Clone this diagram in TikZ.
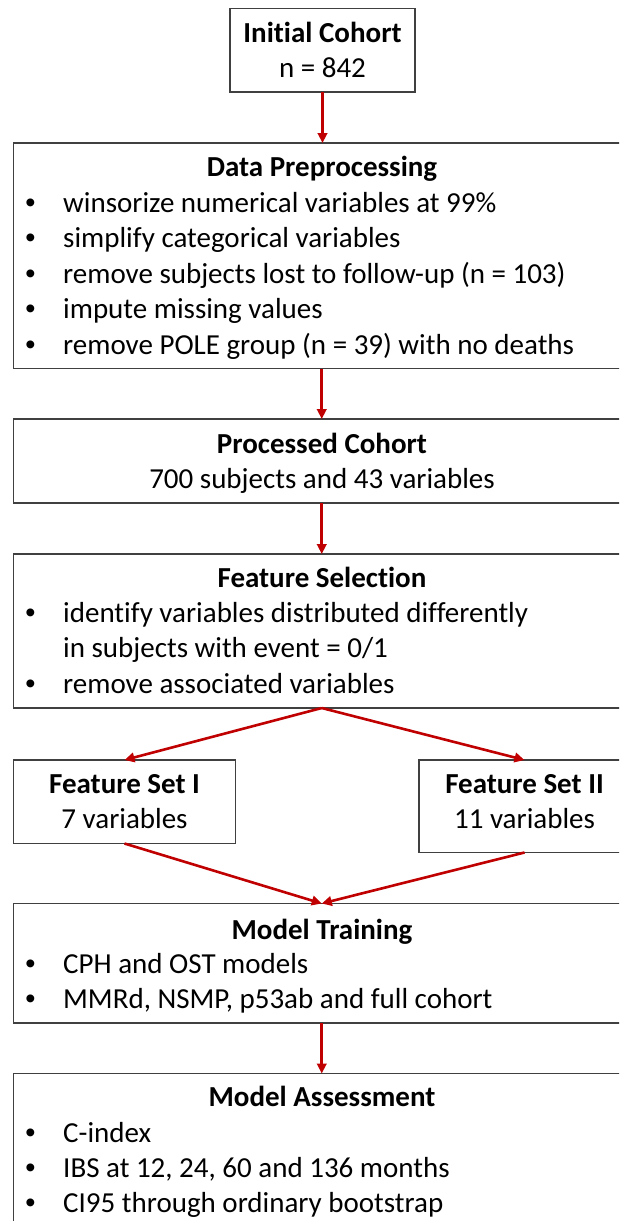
\documentclass[tikz,border=0pt]{standalone}
\usepackage{fontspec}
\setmainfont{Carlito}[Ligatures=NoCommon]
\newfontfamily\bulfont{Liberation Sans}
\usetikzlibrary{arrows.meta}
\definecolor{arrred}{HTML}{C00000}
\definecolor{boxgray}{HTML}{404040}
\begin{document}
\begin{tikzpicture}[x=1pt,y=-1pt,
  box/.style={draw=boxgray, line width=1.5pt, anchor=north west, inner sep=0pt, outer sep=0pt},
  arr/.style={draw=arrred, line width=2.6pt, -{Triangle[length=10pt,width=9.5pt]}},
  ttl/.style={anchor=base, font=\fontsize{29}{35.5}\selectfont\bfseries, inner sep=0pt},
  txt/.style={anchor=base, font=\fontsize{29}{35.5}\selectfont, inner sep=0pt},
  itm/.style={anchor=base west, font=\fontsize{29}{35.5}\selectfont, inner sep=0pt},
  bul/.style={anchor=base, font=\bulfont\fontsize{29}{35.5}\selectfont, inner sep=0pt}]
\useasboundingbox (0,0) rectangle (619,1221);
\clip (0,0) rectangle (619,1221);

% boxes
\node[box, minimum width=185pt, minimum height=83.5pt] (ic) at (230,8.5) {};
\node[box, minimum width=616.5pt, minimum height=225.5pt] (dp) at (13.5,143) {};
\node[box, minimum width=616.5pt, minimum height=84pt] (pc) at (13.5,419) {};
\node[box, minimum width=616.5pt, minimum height=154pt] (fs) at (13.5,554) {};
\node[box, minimum width=222pt, minimum height=83.5pt] (fs1) at (13.5,760) {};
\node[box, minimum width=211pt, minimum height=92.5pt] (fs2) at (419,760) {};
\node[box, minimum width=616.5pt, minimum height=119.5pt] (mt) at (13.5,903.5) {};
\node[box, minimum width=616.5pt, minimum height=170pt] (ma) at (13.5,1073.5) {};

% Initial cohort
\node[ttl] (ict) at (322.5,42) {Initial Cohort};
\node[txt] (icn) at (322.5,77) {n = 842};

% Data preprocessing
\node[ttl] (dpt) at (322,176) {Data Preprocessing};
\node[bul] (dpb1) at (30.5,212) {•};
\node[itm] (dpi1) at (63,212) {winsorize numerical variables at 99\%};
\node[bul] (dpb2) at (30.5,247.5) {•};
\node[itm] (dpi2) at (63,247.5) {simplify categorical variables};
\node[bul] (dpb3) at (30.5,283) {•};
\node[itm] (dpi3) at (63,283) {remove subjects lost to follow-up (n = 103)};
\node[bul] (dpb4) at (30.5,318.5) {•};
\node[itm] (dpi4) at (63,318.5) {impute missing values};
\node[bul] (dpb5) at (30.5,354) {•};
\node[itm] (dpi5) at (63,354) {remove POLE group (n = 39) with no deaths};

% Processed cohort
\node[ttl] (pct) at (322,453) {Processed Cohort};
\node[txt] (pcn) at (322,488) {700 subjects and 43 variables};

% Feature selection
\node[ttl] (fst) at (322,587) {Feature Selection};
\node[bul] (fsb1) at (30.5,622) {•};
\node[itm] (fsi1) at (63,622) {identify variables distributed differently};
\node[itm] (fsi1b) at (63,657) {in subjects with event = 0/1};
\node[bul] (fsb2) at (30.5,693) {•};
\node[itm] (fsi2) at (63,693) {remove associated variables};

% Feature sets
\node[ttl] (fs1t) at (124.5,793) {Feature Set I};
\node[txt] (fs1n) at (124.5,828) {7 variables};
\node[ttl] (fs2t) at (524.5,793) {Feature Set II};
\node[txt] (fs2n) at (524.5,828) {11 variables};

% Model training
\node[ttl] (mtt) at (322,939) {Model Training};
\node[bul] (mtb1) at (30.5,973) {•};
\node[itm] (mti1) at (63,973) {CPH and OST models};
\node[bul] (mtb2) at (30.5,1008) {•};
\node[itm] (mti2) at (63,1008) {MMRd, NSMP, p53ab and full cohort};

% Model assessment
\node[ttl] (mat) at (322,1106) {Model Assessment};
\node[bul] (mab1) at (30.5,1142) {•};
\node[itm] (mai1) at (63,1142) {C-index};
\node[bul] (mab2) at (30.5,1177) {•};
\node[itm] (mai2) at (63,1177) {IBS at 12, 24, 60 and 136 months};
\node[bul] (mab3) at (30.5,1212) {•};
\node[itm] (mai3) at (63,1212) {CI95 through ordinary bootstrap};

% connectors
\draw[arr] (ic.south) -- (ic.south |- dp.north);
\draw[arr] (dp.south) -- (pc.north);
\draw[arr] (pc.south) -- (fs.north);
\draw[arr] (fs.south) -- (fs1.north);
\draw[arr] (fs.south) -- (fs2.north);
\draw[arr] (fs1.south) -- (mt.north);
\draw[arr] (fs2.south) -- (mt.north);
\draw[arr] (mt.south) -- (ma.north);
\end{tikzpicture}
\end{document}
